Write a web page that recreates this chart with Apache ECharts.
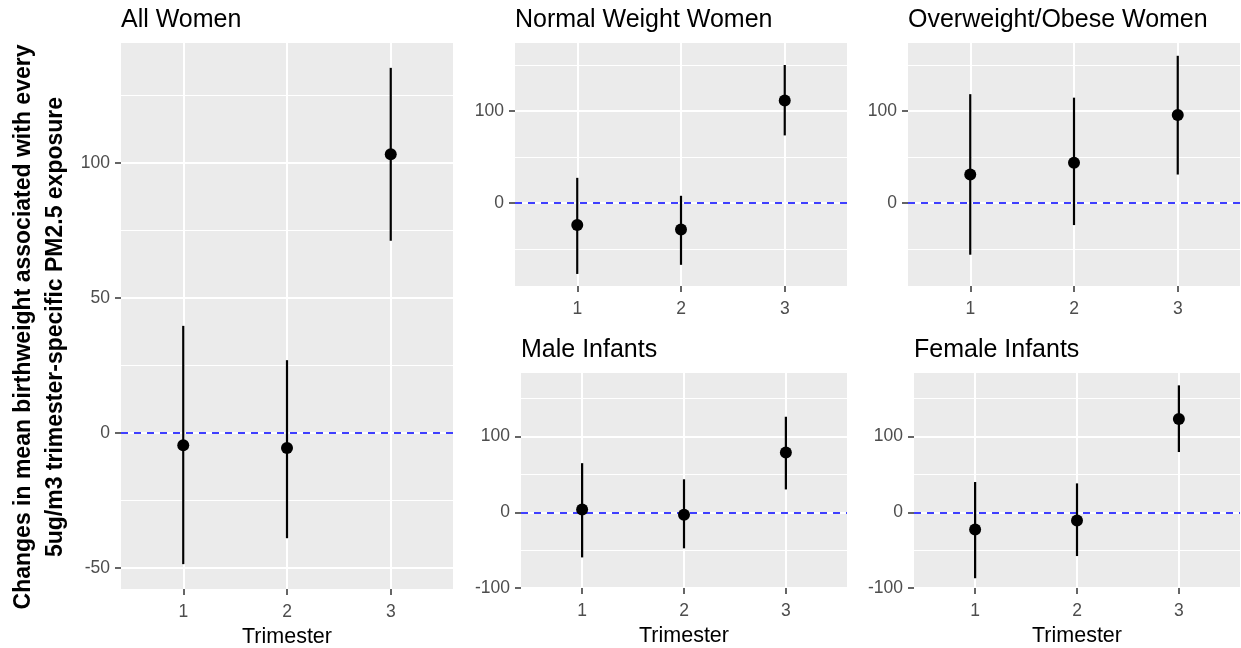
<!DOCTYPE html>
<html>
<head>
<meta charset="utf-8">
<script src="https://cdn.jsdelivr.net/npm/echarts@6/dist/echarts.min.js"></script>
<style>
  html, body { margin: 0; padding: 0; background: #fff; }
  #main { width: 1241px; height: 648px; }
</style>
</head>
<body>
<div id="main"></div>
<script>
// trimesters on the x axis
var trimesters = [1, 2, 3];

// estimates and 95% CI
var allEst = [-4.6, -5.6, 103.1];
var allLo  = [-48.6, -39.0, 71.1];
var allHi  = [39.6, 26.9, 135.1];

var normEst = [-23.8, -28.6, 111.6];
var normLo  = [-76.9, -67.0, 73.6];
var normHi  = [27.5, 8.0, 150.1];

var overEst = [31.1, 44.0, 95.9];
var overLo  = [-56.0, -23.8, 31.1];
var overHi  = [118.4, 114.6, 160.1];

var maleEst = [3.6, -3.1, 79.1];
var maleLo  = [-59.6, -47.6, 30.2];
var maleHi  = [64.9, 43.6, 126.2];

var femEst = [-22.7, -10.7, 123.3];
var femLo  = [-87.1, -57.8, 79.6];
var femHi  = [40.0, 38.2, 167.7];

// tick labels (major) and minor grid values
var ticksAll = [-50, 0, 50, 100];
var minorAll = [-25, 25, 75, 125];
var ticksTop = [0, 100];
var minorTop = [-50, 50, 150];
var ticksBot = [-100, 0, 100];
var minorBot = [-50, 50, 150];

var titles = ['All Women', 'Normal Weight Women', 'Overweight/Obese Women', 'Male Infants', 'Female Infants'];

var FONT = '"Liberation Sans", Arial, sans-serif';

/*各面板位置*/
var panels = [
  { left: 121, top: 43, width: 332, height: 546, min: -57.8, max: 144.3, ticks: ticksAll, minor: minorAll, est: allEst, lo: allLo, hi: allHi, xname: true },
  { left: 515, top: 43, width: 332, height: 243, min: -90, max: 174, ticks: ticksTop, minor: minorTop, est: normEst, lo: normLo, hi: normHi, xname: false },
  { left: 908, top: 43, width: 332, height: 243, min: -90, max: 174, ticks: ticksTop, minor: minorTop, est: overEst, lo: overLo, hi: overHi, xname: false },
  { left: 521, top: 373, width: 326, height: 215, min: -100, max: 184, ticks: ticksBot, minor: minorBot, est: maleEst, lo: maleLo, hi: maleHi, xname: true },
  { left: 914, top: 373, width: 326, height: 215, min: -100, max: 184, ticks: ticksBot, minor: minorBot, est: femEst, lo: femLo, hi: femHi, xname: true }
];

function renderErr(params, api) {
  var x = api.value(0);
  var pc = api.coord([x, api.value(1)]);
  var p0 = api.coord([x, api.value(2)]);
  var p1 = api.coord([x, api.value(3)]);
  return {
    type: 'group',
    children: [
      { type: 'line', shape: { x1: p0[0], y1: p0[1], x2: p1[0], y2: p1[1] }, style: { stroke: '#000', lineWidth: 2.2 } },
      { type: 'circle', shape: { cx: pc[0], cy: pc[1], r: 6 }, style: { fill: '#000' } }
    ]
  };
}

var grid = [], xAxis = [], yAxis = [], series = [], title = [];

panels.forEach(function (p, i) {
  grid.push({
    left: p.left, top: p.top, width: p.width, height: p.height,
    outerBoundsMode: 'none', containLabel: false,
    show: true, backgroundColor: '#ebebeb', borderWidth: 0
  });
  title.push({
    text: titles[i], left: p.left, top: p.top - 35, padding: 0,
    textStyle: { fontFamily: FONT, fontSize: 25, fontWeight: 'normal', color: '#000' }
  });
  xAxis.push({
    gridIndex: i, type: 'value', min: 0.4, max: 3.6,
    name: p.xname ? 'Trimester' : '', nameLocation: 'middle', nameGap: 37,
    nameTextStyle: { fontFamily: FONT, fontSize: 21.5, color: '#000' },
    axisLine: { show: false, onZero: false },
    axisTick: { show: true, customValues: trimesters, length: 6, lineStyle: { color: '#333', width: 1.5 } },
    axisLabel: { customValues: trimesters, margin: 14, color: '#4d4d4d', fontFamily: FONT, fontSize: 17.5 },
    splitLine: { show: true, lineStyle: { color: '#fff', width: 2 } }
  });
  yAxis.push({
    gridIndex: i, type: 'value', min: p.min, max: p.max,
    axisLine: { show: false, onZero: false },
    axisTick: { show: true, customValues: p.ticks, length: 6, lineStyle: { color: '#333', width: 1.5 } },
    axisLabel: { customValues: p.ticks, margin: 11, color: '#4d4d4d', fontFamily: FONT, fontSize: 17.5 },
    splitLine: { show: true, lineStyle: { color: '#fff', width: 2 } }
  });

  // 次网格线 + 0 参考线
  var marks = p.minor.map(function (v) {
    return { yAxis: v, lineStyle: { color: '#fff', width: 1, type: 'solid' } };
  });
  marks.push({ yAxis: 0, lineStyle: { color: '#0000ff', width: 1.5, type: [7, 6] } });
  series.push({
    type: 'line', xAxisIndex: i, yAxisIndex: i, data: [], z: 1, silent: true,
    markLine: { silent: true, z: 1, symbol: ['none', 'none'], label: { show: false }, animation: false, data: marks }
  });

  var data = trimesters.map(function (t, k) {
    return [t, p.est[k], p.lo[k], p.hi[k]];
  });
  series.push({
    type: 'custom', xAxisIndex: i, yAxisIndex: i, z: 10,
    renderItem: renderErr,
    encode: { x: 0, y: [1, 2, 3] },
    data: data
  });
});

var chart = echarts.init(document.getElementById('main'), null, { renderer: 'canvas' });
chart.setOption({
  animation: false,
  backgroundColor: '#fff',
  textStyle: { fontFamily: FONT },
  title: title,
  grid: grid,
  xAxis: xAxis,
  yAxis: yAxis,
  series: series,
  graphic: [{
    type: 'text', x: 40, y: 327, rotation: Math.PI / 2,
    style: {
      text: 'Changes in mean birthweight associated with every\n5ug/m3 trimester-specific PM2.5 exposure',
      font: 'bold 23px ' + FONT,
      fill: '#000',
      align: 'center', verticalAlign: 'middle',
      textAlign: 'center', textVerticalAlign: 'middle',
      lineHeight: 32
    }
  }]
});
</script>
</body>
</html>
